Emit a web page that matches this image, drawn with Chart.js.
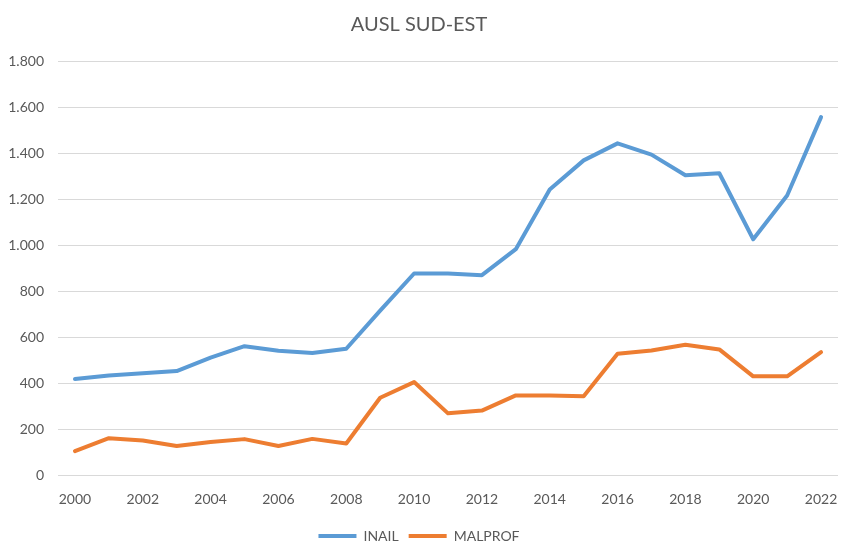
<!DOCTYPE html>
<html>
<head>
<meta charset="utf-8">
<script src="https://cdn.jsdelivr.net/npm/chart.js@4/dist/chart.umd.min.js"></script>
<style>
  html, body { margin: 0; padding: 0; background: #fff; }
  #wrap { width: 841px; height: 545px; }
</style>
</head>
<body>
<div id="wrap"><canvas id="chart" width="841" height="545"></canvas></div>
<script>
/* AUSL SUD-EST: denunce INAIL e MALPROF per anno */

const YEARS = ["2000", "2001", "2002", "2003", "2004", "2005", "2006", "2007", "2008", "2009", "2010", "2011",
  "2012", "2013", "2014", "2015", "2016", "2017", "2018", "2019", "2020", "2021", "2022"];
const INAIL = [417, 433, 442, 452, 510, 560, 540, 530, 549, 715, 876, 876,
  869, 982, 1241, 1368, 1442, 1393, 1303, 1312, 1025, 1215, 1556];
const MALPROF = [104, 160, 150, 126, 143, 156, 126, 157, 137, 336, 404, 268,
  280, 346, 346, 342, 527, 541, 566, 546, 429, 429, 534];

const FONT = "Lato, 'Open Sans', sans-serif";
const ink = "#595959";

// separatore delle migliaia con il punto (1.800)
const fmtIt = (v) => String(v).replace(/\B(?=(\d{3})+(?!\d))/g, ".");

new Chart(document.getElementById("chart"), {
  type: "line",
  data: {
    labels: YEARS,
    datasets: [
      { label: "INAIL", data: INAIL, borderColor: "#5B9BD5", backgroundColor: "#5B9BD5", borderWidth: 4,
        pointRadius: 0, tension: 0, borderCapStyle: "round", borderJoinStyle: "round" },
      { label: "MALPROF", data: MALPROF, borderColor: "#ED7D31", backgroundColor: "#ED7D31", borderWidth: 4,
        pointRadius: 0, tension: 0, borderCapStyle: "round", borderJoinStyle: "round" },
    ],
  },
  options: {
    responsive: false,
    animation: false,
    layout: { padding: { left: 0, right: 3, top: 0, bottom: -8 } },
    plugins: {
      title: {
        display: true,
        text: "AUSL SUD-EST",
        color: ink,
        font: { family: FONT, size: 20, weight: "normal" },
        padding: { top: 13, bottom: 24 },
      },
      legend: {
        position: "bottom",
        labels: {
          usePointStyle: true,
          pointStyle: "line",
          pointStyleWidth: 38,
          boxHeight: 4,
          color: ink,
          font: { family: FONT, size: 14 },
          padding: 10,
        },
      },
      tooltip: { enabled: false },
    },
    scales: {
      x: {
        offset: true,
        grid: { display: false },
        border: { display: false },
        ticks: {
          color: ink,
          font: { family: FONT, size: 14 },
          autoSkip: false,
          maxRotation: 0,
          padding: 8,
          callback: (v, i) => (i % 2 === 0 ? YEARS[i] : ""),
        },
        afterFit: (s) => { s.height = 44; s.paddingLeft = 0; s.paddingRight = 0; },
      },
      y: {
        min: 0,
        max: 1800,
        grid: { color: "#D9D9D9", lineWidth: 1, drawTicks: false },
        border: { display: false },
        ticks: {
          stepSize: 200,
          color: ink,
          font: { family: FONT, size: 14 },
          padding: 14,
          callback: (v) => fmtIt(v),
        },
        afterFit: (s) => { s.width = 58; },
      },
    },
  },
});
</script>
</body>
</html>
